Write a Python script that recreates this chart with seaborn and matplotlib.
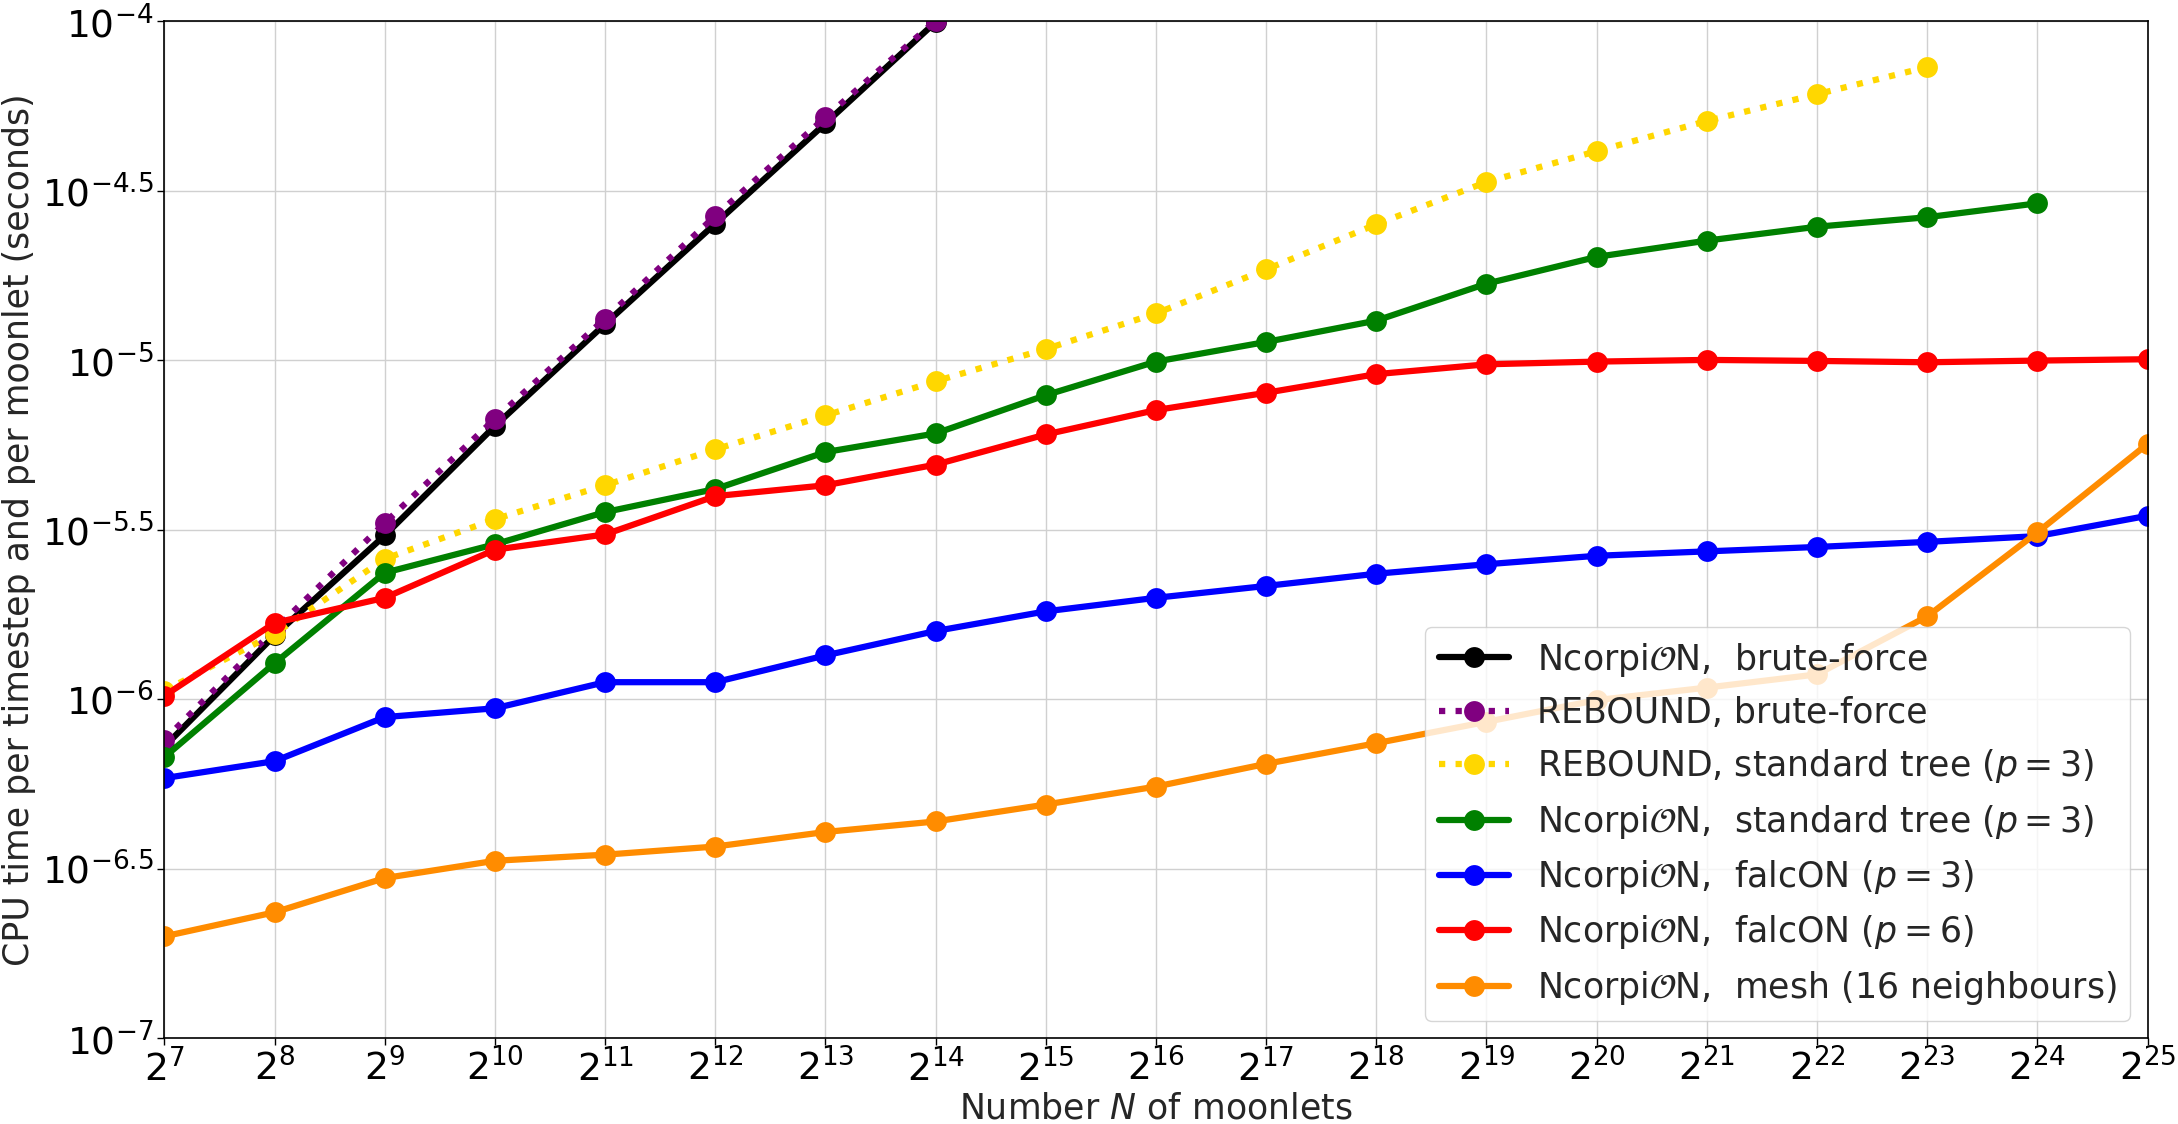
import numpy as np
import matplotlib
matplotlib.use("Agg")
import matplotlib.pyplot as plt
import seaborn as sns

# exponents of N = 2^k
k_bf = [7, 8, 9, 10, 11, 12, 13, 14]
k_rebound_tree = list(range(7, 24))
k_ncorpion_tree = list(range(7, 25))
k_all = list(range(7, 26))

# log10 of CPU time per timestep and per moonlet
ncorpion_bf = [-6.14, -5.812, -5.517, -5.194, -4.893, -4.597, -4.301, -4.002]
rebound_bf = [-6.12, -5.795, -5.480, -5.173, -4.877, -4.574, -4.283, -3.998]
rebound_tree = [-5.975, -5.807, -5.586, -5.469, -5.369, -5.263, -5.163, -5.062, -4.967,
                -4.862, -4.732, -4.599, -4.474, -4.383, -4.294, -4.215, -4.135]
ncorpion_tree = [-6.171, -5.894, -5.627, -5.543, -5.448, -5.380, -5.271, -5.216, -5.103,
                 -5.004, -4.946, -4.883, -4.774, -4.695, -4.647, -4.606, -4.578, -4.537]
falcon_p3 = [-6.233, -6.183, -6.053, -6.027, -5.950, -5.950, -5.871, -5.799, -5.741, -5.701,
             -5.666, -5.630, -5.602, -5.577, -5.564, -5.551, -5.536, -5.519, -5.459]
falcon_p6 = [-5.990, -5.775, -5.701, -5.559, -5.514, -5.401, -5.369, -5.308, -5.219, -5.147,
             -5.096, -5.041, -5.012, -5.004, -4.999, -5.002, -5.006, -5.001, -4.997]
mesh = [-6.700, -6.629, -6.528, -6.477, -6.459, -6.435, -6.392, -6.361, -6.311, -6.258,
        -6.191, -6.130, -6.067, -6.003, -5.966, -5.927, -5.756, -5.508, -5.247]

series = [
    (k_bf, ncorpion_bf, r"Ncorpi$\mathcal{O}$N,  brute-force", "black", "-"),
    (k_bf, rebound_bf, "REBOUND, brute-force", "purple", ":"),
    (k_rebound_tree, rebound_tree, r"REBOUND, standard tree ($p=3$)", "gold", ":"),
    (k_ncorpion_tree, ncorpion_tree, r"Ncorpi$\mathcal{O}$N,  standard tree ($p=3$)", "green", "-"),
    (k_all, falcon_p3, r"Ncorpi$\mathcal{O}$N,  falcON ($p=3$)", "blue", "-"),
    (k_all, falcon_p6, r"Ncorpi$\mathcal{O}$N,  falcON ($p=6$)", "red", "-"),
    (k_all, mesh, r"Ncorpi$\mathcal{O}$N,  mesh (16 neighbours)", "darkorange", "-"),
]

sns.set_style("ticks", {"axes.grid": True, "grid.color": "#d0d0d0",
                        "axes.edgecolor": "black", "xtick.color": "black",
                        "ytick.color": "black"})
plt.rcParams["font.family"] = ["DejaVu Sans"]
plt.rcParams["mathtext.fontset"] = "dejavusans"

fig, ax = plt.subplots(figsize=(21.78, 11.24), dpi=100)
fig.subplots_adjust(left=0.0755, right=0.986, top=0.981, bottom=0.0765)

ax.set_xscale("log", base=2)
ax.set_yscale("log")

for k, logt, label, color, ls in series:
    n = 2.0 ** np.array(k)
    t = 10.0 ** np.array(logt)
    sns.lineplot(x=n, y=t, ax=ax, color=color, linestyle=ls, linewidth=4.5,
                 marker="o", markersize=15, markeredgecolor=color,
                 markeredgewidth=0, label=label)

xt = list(range(7, 26))
ax.set_xticks([2.0 ** e for e in xt])
ax.set_xticklabels([r"$2^{%d}$" % e for e in xt])
ax.xaxis.set_minor_locator(matplotlib.ticker.NullLocator())
yt = np.arange(-7, -3.99, 0.5)
ax.set_yticks(10.0 ** yt)
ax.set_yticklabels([r"$10^{%g}$" % e for e in yt])
ax.yaxis.set_minor_locator(matplotlib.ticker.NullLocator())
ax.set_xlim(2.0 ** 7, 2.0 ** 25)
ax.set_ylim(1e-7, 1e-4)
ax.tick_params(labelsize=27, length=5, width=1, pad=3)
ax.grid(True, color="#d0d0d0", linewidth=1)
for s in ax.spines.values():
    s.set_linewidth(1.2)
    s.set_color("black")

ax.set_xlabel(r"Number $N$ of moonlets", fontsize=25, labelpad=2)
ax.set_ylabel("CPU time per timestep and per moonlet (seconds)", fontsize=25, labelpad=4)
ax.legend(loc="lower right", fontsize=25)

fig.savefig("out.png", dpi=100)
